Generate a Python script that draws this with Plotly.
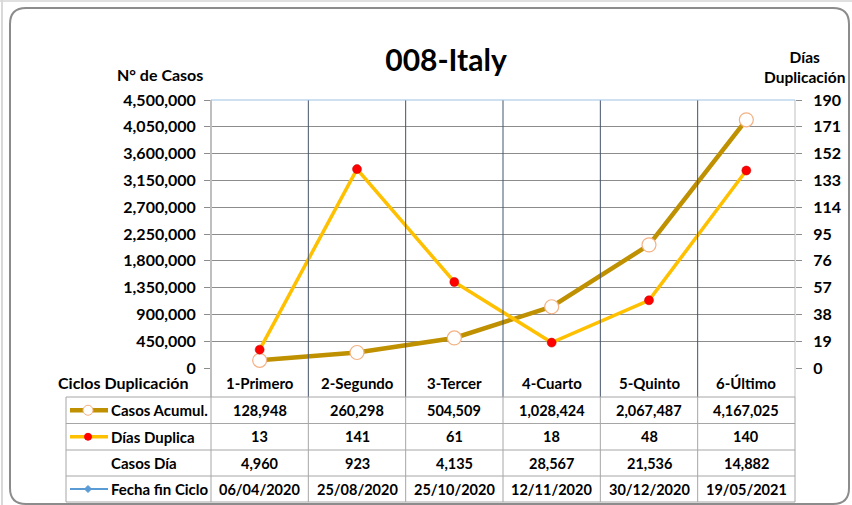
import plotly.graph_objects as go

# ---------------- data ----------------
title = "008-Italy"
categories = ["1-Primero", "2-Segundo", "3-Tercer", "4-Cuarto", "5-Quinto", "6-Último"]
casos_acumul = [128948, 260298, 504509, 1028424, 2067487, 4167025]
dias_duplica = [13, 141, 61, 18, 48, 140]
casos_dia = [4960, 923, 4135, 28567, 21536, 14882]
fecha_fin = ["06/04/2020", "25/08/2020", "25/10/2020", "12/11/2020", "30/12/2020", "19/05/2021"]
left_ticks = [0, 450000, 900000, 1350000, 1800000, 2250000, 2700000, 3150000, 3600000, 4050000, 4500000]
right_ticks = [0, 19, 38, 57, 76, 95, 114, 133, 152, 171, 190]
row_names = ["Casos Acumul.", "Días Duplica", "Casos Día", "Fecha fin Ciclo"]

# ---------------- layout geometry (pixels) ----------------
WIDTH, HEIGHT = 852, 505
L, R, T, B = 211, 795, 100, 368
W, H = R - L, B - T
FONT = "Lato"

def px(x):
    return (x - L) / W

def py(y):
    return (B - y) / H

gold = "#bf9000"
yellow = "#ffc000"
red = "#ff0000"
blue = "#5b9bd5"
tbl = "#a6a6a6"

fig = go.Figure()
fig.add_trace(go.Scatter(
    x=categories, y=casos_acumul, name="Casos Acumul.", mode="lines+markers",
    line=dict(color=gold, width=4.5),
    marker=dict(size=14, color="white", line=dict(color="#f4b183", width=1.2)),
    yaxis="y", cliponaxis=False))
fig.add_trace(go.Scatter(
    x=categories, y=dias_duplica, name="Días Duplica", mode="lines+markers",
    line=dict(color=yellow, width=3.5),
    marker=dict(size=9, color=red, line=dict(color="#c00000", width=0.5)),
    yaxis="y2", cliponaxis=False))

shapes = []
annotations = []

def text(t, x, y, size=14, xanchor="center"):
    annotations.append(dict(text=f"<b>{t}</b>", xref="paper", yref="paper", x=px(x), y=py(y),
                            xanchor=xanchor, yanchor="middle", showarrow=False,
                            font=dict(size=size, family=FONT, color="black")))

# vertical category separators (plot + label row)
row_label_bottom = 397
for i in range(1, 7):
    xpx = L + W * i / 6
    col = "#bfbfbf" if i == 6 else "#44546a"
    shapes.append(dict(type="line", xref="paper", yref="paper",
                       x0=px(xpx), x1=px(xpx), y0=1, y1=py(row_label_bottom),
                       line=dict(color=col, width=1)))
# left axis line
shapes.append(dict(type="line", xref="paper", yref="paper", x0=0, x1=0, y0=1,
                   y1=py(row_label_bottom), line=dict(color="#bfbfbf", width=2)))
# top border line
shapes.append(dict(type="line", xref="paper", yref="paper", x0=0, x1=1, y0=1, y1=1,
                   line=dict(color="#9dc3e6", width=1.2)))

# table rows
row_edges = [397, 423.5, 450, 476, 502]
tbl_left = 66
for yv in row_edges:
    shapes.append(dict(type="line", xref="paper", yref="paper", x0=px(tbl_left), x1=1,
                       y0=py(yv), y1=py(yv), line=dict(color=tbl, width=1)))
col_edges = [tbl_left] + [L + W * i / 6 for i in range(7)]
for xv in col_edges:
    shapes.append(dict(type="line", xref="paper", yref="paper", x0=px(xv), x1=px(xv),
                       y0=py(row_edges[0]), y1=py(row_edges[-1]), line=dict(color=tbl, width=1)))

# category labels
for i, c in enumerate(categories):
    text(c, L + W * (i + 0.5) / 6, 382.5, size=15)
text("Ciclos Duplicación", 123, 382, size=16)

# table cell values
rows = [
    [f"{v:,}" for v in casos_acumul],
    [str(v) for v in dias_duplica],
    [f"{v:,}" for v in casos_dia],
    fecha_fin,
]
for r, vals in enumerate(rows):
    cy = (row_edges[r] + row_edges[r + 1]) / 2
    for i, v in enumerate(vals):
        text(v, L + W * (i + 0.5) / 6, cy, size=14.5)
    if r == 2:
        text(row_names[r], 144, cy, size=15)
    else:
        text(row_names[r], 109, cy, size=15, xanchor="left")

# legend keys
def key_line(cy, color, width):
    shapes.append(dict(type="line", xref="paper", yref="paper", x0=px(70), x1=px(108),
                       y0=py(cy), y1=py(cy), line=dict(color=color, width=width)))

def key_circle(cy, r, fill, edge):
    shapes.append(dict(type="circle", xref="paper", yref="paper",
                       x0=px(88 - r), x1=px(88 + r), y0=py(cy + r), y1=py(cy - r),
                       fillcolor=fill, line=dict(color=edge, width=1)))

c0 = (row_edges[0] + row_edges[1]) / 2
key_line(c0, gold, 4.5)
key_circle(c0, 5, "white", "#f4b183")
c1 = (row_edges[1] + row_edges[2]) / 2
key_line(c1, yellow, 3.5)
key_circle(c1, 3.5, red, red)
c3 = (row_edges[3] + row_edges[4]) / 2
key_line(c3, blue, 2)
d = 3.5
shapes.append(dict(type="path", xref="paper", yref="paper",
                   path=f"M {px(88-d)} {py(c3)} L {px(88)} {py(c3-d)} L {px(88+d)} {py(c3)} L {px(88)} {py(c3+d)} Z",
                   fillcolor=blue, line=dict(color=blue, width=1)))

# axis titles
text("N° de Casos", 160, 74, size=16)
annotations.append(dict(text="<b>Días<br>Duplicación</b>", xref="paper", yref="paper", x=px(804),
                        y=py(67), xanchor="center", yanchor="middle", showarrow=False,
                        align="center", font=dict(size=15.5, family=FONT, color="black")))

# outer rounded frame
fx0, fx1, fy0, fy1, rr = 10, 849, 8, 504, 16
path = (f"M {px(fx0+rr)} {py(fy0)} L {px(fx1-rr)} {py(fy0)} "
        f"Q {px(fx1)} {py(fy0)} {px(fx1)} {py(fy0+rr)} L {px(fx1)} {py(fy1-rr)} "
        f"Q {px(fx1)} {py(fy1)} {px(fx1-rr)} {py(fy1)} L {px(fx0+rr)} {py(fy1)} "
        f"Q {px(fx0)} {py(fy1)} {px(fx0)} {py(fy1-rr)} L {px(fx0)} {py(fy0+rr)} "
        f"Q {px(fx0)} {py(fy0)} {px(fx0+rr)} {py(fy0)} Z")
shapes.append(dict(type="path", xref="paper", yref="paper", path=path,
                   line=dict(color="#8c8c8c", width=2), layer="below"))
shapes.append(dict(type="line", xref="paper", yref="paper", x0=px(0), x1=px(852),
                   y0=py(1), y1=py(1), line=dict(color="#e0e0e0", width=2), layer="below"))
shapes.append(dict(type="line", xref="paper", yref="paper", x0=px(2), x1=px(2),
                   y0=py(0), y1=py(505), line=dict(color="#d9d9d9", width=2), layer="below"))

fig.update_layout(
    width=WIDTH, height=HEIGHT,
    margin=dict(l=L, r=WIDTH - R, t=T, b=HEIGHT - B, autoexpand=False),
    paper_bgcolor="white", plot_bgcolor="white",
    showlegend=False,
    title=dict(text=f"<b>{title}</b>", x=px(446), xanchor="center", y=(HEIGHT - 60) / HEIGHT,
               yanchor="middle", xref="paper", font=dict(size=30, family=FONT, color="black")),
    xaxis=dict(type="category", range=[-0.5, 5.5], showticklabels=False, showgrid=False,
               zeroline=False, showline=False, ticks=""),
    yaxis=dict(range=[0, 4500000], tickvals=left_ticks, tickformat=",", showgrid=True,
               gridcolor="#8c8c8c", gridwidth=1, zeroline=False, showline=False,
               ticks="outside", ticklen=6, tickcolor="#8c8c8c",
               tickfont=dict(size=16, family=FONT, color="black", weight="bold"),
               ticklabelstandoff=5),
    yaxis2=dict(range=[0, 190], tickvals=right_ticks, overlaying="y", side="right",
                showgrid=False, zeroline=False, showline=False, ticks="outside", ticklen=6,
                tickcolor="#8c8c8c",
                tickfont=dict(size=16, family=FONT, color="black", weight="bold"),
                ticklabelstandoff=8),
    shapes=shapes, annotations=annotations,
)

fig.write_html("out.html", config={"displayModeBar": False},
               post_script="document.body.style.margin='0px';")
